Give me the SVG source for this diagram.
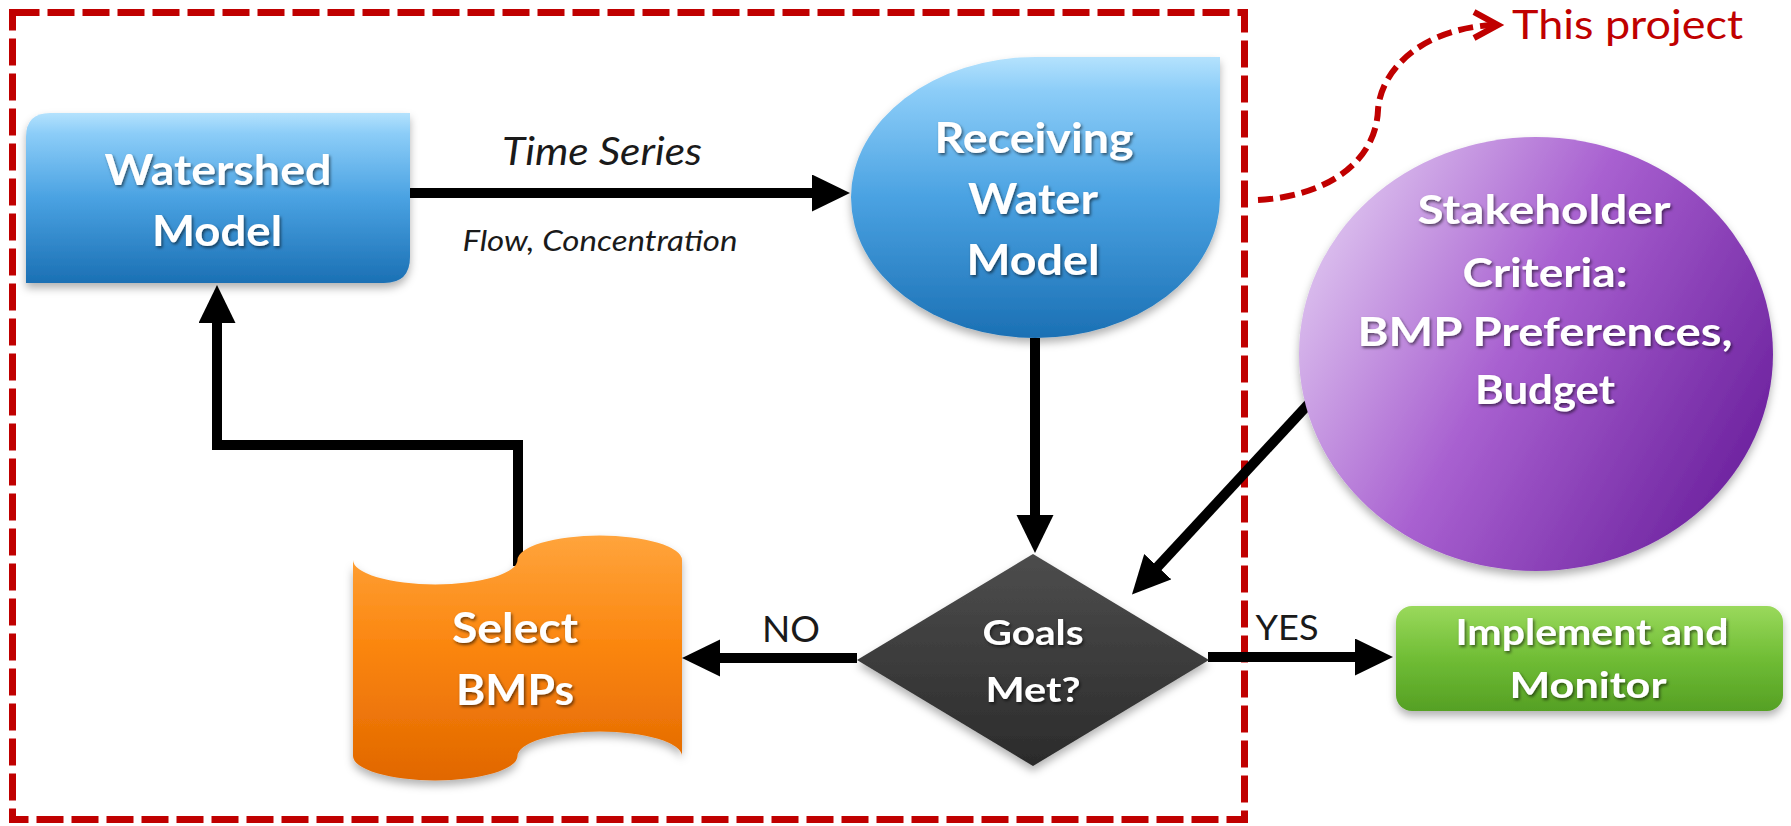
<svg xmlns="http://www.w3.org/2000/svg" width="1791" height="826" viewBox="0 0 1791 826">
  <defs>
    <linearGradient id="gBlue" x1="0" y1="0" x2="0" y2="1">
      <stop offset="0" stop-color="#b4e2fd"/>
      <stop offset="0.12" stop-color="#8ccdf8"/>
      <stop offset="0.5" stop-color="#4aa2e2"/>
      <stop offset="1" stop-color="#1b70b4"/>
    </linearGradient>
    <linearGradient id="gOrange" x1="0" y1="0" x2="0" y2="1">
      <stop offset="0" stop-color="#ffa43c"/>
      <stop offset="0.45" stop-color="#fb860f"/>
      <stop offset="1" stop-color="#e16700"/>
    </linearGradient>
    <linearGradient id="gDark" x1="0" y1="0" x2="0" y2="1">
      <stop offset="0" stop-color="#4d4d4d"/>
      <stop offset="1" stop-color="#2b2b2b"/>
    </linearGradient>
    <linearGradient id="gPurple" x1="0" y1="0.25" x2="1" y2="0.75">
      <stop offset="0" stop-color="#dfc6f0"/>
      <stop offset="0.45" stop-color="#a860d0"/>
      <stop offset="1" stop-color="#6a1f9c"/>
    </linearGradient>
    <linearGradient id="gGreen" x1="0" y1="0" x2="0" y2="1">
      <stop offset="0" stop-color="#9ad95c"/>
      <stop offset="0.5" stop-color="#70bd35"/>
      <stop offset="1" stop-color="#55a024"/>
    </linearGradient>
    <filter id="shapeShadow" x="-10%" y="-10%" width="120%" height="130%">
      <feDropShadow dx="0" dy="5" stdDeviation="4" flood-color="#000" flood-opacity="0.3"/>
    </filter>
    <filter id="textShadow" x="-10%" y="-30%" width="120%" height="160%">
      <feDropShadow dx="1.5" dy="2" stdDeviation="1.5" flood-color="#000" flood-opacity="0.55"/>
    </filter>
    <marker id="head" markerUnits="userSpaceOnUse" markerWidth="40" markerHeight="40" refX="10" refY="18.5" orient="auto">
      <path d="M0,0 L38,18.5 L0,37 Z" fill="#000"/>
    </marker>
    <style>
      .conn { fill: none; stroke: #000; stroke-width: 10; stroke-linejoin: miter; marker-end: url(#head); }
      .label { font-family: Lato, "Liberation Sans", sans-serif; font-weight: bold; fill: #fff; text-anchor: middle; filter: url(#textShadow); }
      .edge { font-family: Lato, "Liberation Sans", sans-serif; fill: #1a1a1a; text-anchor: middle; }
      .scope { fill: none; stroke: #c00000; stroke-width: 7; stroke-dasharray: 27 8; }
    </style>
  </defs>

  <rect width="1791" height="826" fill="#fff"/>

  <!-- project scope boundary -->
  <rect class="scope" x="12.5" y="12.5" width="1232" height="807"/>

  <!-- callout: this project -->
  <g id="callout">
    <path d="M1258,200 C1330,196 1376,160 1378,110 C1380,75 1415,30 1492,25" fill="none" stroke="#c00000" stroke-width="6" stroke-dasharray="15 7"/>
    <polyline points="1474,12 1498,25 1474,38" fill="none" stroke="#c00000" stroke-width="6"/>
    <text x="1512" y="39" font-family="Lato, 'Liberation Sans', sans-serif" font-size="41" fill="#c00000" textLength="231" lengthAdjust="spacingAndGlyphs">This project</text>
  </g>

  <!-- connectors -->
  <g id="connectors">
    <path class="conn" d="M410,193 L822,193"/>
    <path class="conn" d="M518,566 L518,445 L217,445 L217,313"/>
    <path class="conn" d="M1035,338 L1035,525"/>
    <path class="conn" d="M1340,370 L1151,574"/>
    <path class="conn" d="M857,658 L710,658"/>
    <path class="conn" d="M1208,657 L1365,657"/>
    <text class="edge" x="602" y="165" font-size="38" font-style="italic" textLength="200" lengthAdjust="spacingAndGlyphs">Time Series</text>
    <text class="edge" x="600" y="251" font-size="28" font-style="italic" textLength="275" lengthAdjust="spacingAndGlyphs">Flow, Concentration</text>
    <text class="edge" x="791" y="642" font-size="37" textLength="58" lengthAdjust="spacingAndGlyphs">NO</text>
    <text class="edge" x="1287" y="640" font-size="35" textLength="63" lengthAdjust="spacingAndGlyphs">YES</text>
  </g>

  <!-- watershed model: round diagonal corner rectangle -->
  <g id="watershed">
    <path d="M50,113 L410,113 L410,257 Q410,283 384,283 L26,283 L26,137 Q26,113 50,113 Z" fill="url(#gBlue)" filter="url(#shapeShadow)"/>
    <text class="label" x="218" y="185" font-size="42" textLength="227" lengthAdjust="spacingAndGlyphs">Watershed</text>
    <text class="label" x="217" y="246" font-size="42" textLength="130" lengthAdjust="spacingAndGlyphs">Model</text>
  </g>

  <!-- receiving water model: teardrop -->
  <g id="receiving">
    <path d="M1035.5,57 L1220,57 L1220,197.5 A184.5,140.5 0 0 1 1035.5,338 A184.5,140.5 0 0 1 851,197.5 A184.5,140.5 0 0 1 1035.5,57 Z" fill="url(#gBlue)" filter="url(#shapeShadow)"/>
    <text class="label" x="1034" y="153" font-size="42" textLength="199" lengthAdjust="spacingAndGlyphs">Receiving</text>
    <text class="label" x="1033" y="214" font-size="42" textLength="130" lengthAdjust="spacingAndGlyphs">Water</text>
    <text class="label" x="1033" y="275" font-size="42" textLength="133" lengthAdjust="spacingAndGlyphs">Model</text>
  </g>

  <!-- stakeholder criteria: ellipse -->
  <g id="stakeholder">
    <ellipse cx="1536" cy="354" rx="237" ry="217" fill="url(#gPurple)" filter="url(#shapeShadow)"/>
    <text class="label" x="1544" y="224" font-size="41" textLength="253" lengthAdjust="spacingAndGlyphs">Stakeholder</text>
    <text class="label" x="1545" y="287" font-size="41" textLength="165" lengthAdjust="spacingAndGlyphs">Criteria:</text>
    <text class="label" x="1545" y="346" font-size="41" textLength="375" lengthAdjust="spacingAndGlyphs">BMP Preferences,</text>
    <text class="label" x="1545" y="404" font-size="41" textLength="140" lengthAdjust="spacingAndGlyphs">Budget</text>
  </g>

  <!-- select BMPs: punched tape -->
  <g id="select">
    <path d="M353,560 A82.25,24.4 0 0 0 517.5,560 A82.25,24.4 0 0 1 682,560 L682,756 A82.25,24.4 0 0 0 517.5,756 A82.25,24.4 0 0 1 353,756 Z" fill="url(#gOrange)" filter="url(#shapeShadow)"/>
    <text class="label" x="515" y="643" font-size="42" textLength="126" lengthAdjust="spacingAndGlyphs">Select</text>
    <text class="label" x="515" y="705" font-size="42" textLength="118" lengthAdjust="spacingAndGlyphs">BMPs</text>
  </g>

  <!-- decision: goals met? -->
  <g id="goals">
    <path d="M1033,554 L1209,660 L1033,766 L857,660 Z" fill="url(#gDark)" filter="url(#shapeShadow)"/>
    <text class="label" x="1033" y="645" font-size="35" textLength="101" lengthAdjust="spacingAndGlyphs">Goals</text>
    <text class="label" x="1033" y="702" font-size="35" textLength="95" lengthAdjust="spacingAndGlyphs">Met?</text>
  </g>

  <!-- implement and monitor -->
  <g id="implement">
    <rect x="1396" y="606" width="387" height="105" rx="16" fill="url(#gGreen)" filter="url(#shapeShadow)"/>
    <text class="label" x="1592" y="645" font-size="36" textLength="273" lengthAdjust="spacingAndGlyphs">Implement and</text>
    <text class="label" x="1588" y="698" font-size="36" textLength="157" lengthAdjust="spacingAndGlyphs">Monitor</text>
  </g>
</svg>
